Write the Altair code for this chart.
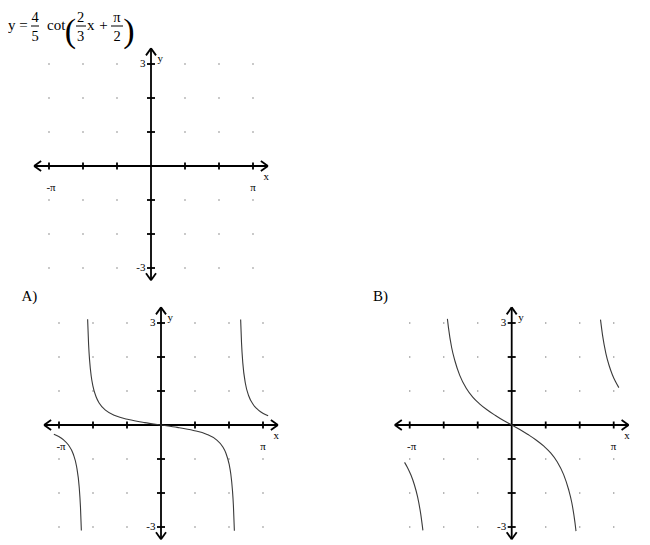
import math
import altair as alt
import pandas as pd

# ---------------- values ----------------
# x in radians, y in graph units
A_mid_x = [-2.26, -2.23, -2.2, -2.15, -2.1, -2.0, -1.9, -1.7, -1.4, -1.0, -0.5, 0.0,
           0.5, 1.0, 1.4, 1.7, 1.9, 2.0, 2.1, 2.15, 2.2, 2.23, 2.26]
A_mid_y = [3.11, 2.37, 1.91, 1.44, 1.16, 0.83, 0.64, 0.43, 0.27, 0.16, 0.07, 0.0,
           -0.07, -0.16, -0.27, -0.43, -0.64, -0.83, -1.16, -1.44, -1.91, -2.37, -3.11]
A_right_x = [2.453, 2.48, 2.52, 2.6, 2.7, 2.85, 3.0, 3.15, 3.3]
A_right_y = [3.10, 2.42, 1.82, 1.22, 0.86, 0.59, 0.44, 0.34, 0.27]
A_left_x = [-3.3, -3.15, -3.0, -2.85, -2.7, -2.6, -2.52, -2.48, -2.453]
A_left_y = [-0.27, -0.34, -0.44, -0.59, -0.86, -1.22, -1.82, -2.42, -3.10]

B_mid_x = [-1.98, -1.95, -1.85, -1.75, -1.6, -1.4, -1.2, -1.0, -0.75, -0.5, -0.25, 0.0,
           0.25, 0.5, 0.75, 1.0, 1.2, 1.4, 1.6, 1.75, 1.85, 1.95, 1.98]
B_mid_y = [3.12, 2.88, 2.28, 1.89, 1.46, 1.08, 0.82, 0.63, 0.44, 0.28, 0.13, 0.0,
           -0.13, -0.28, -0.44, -0.63, -0.82, -1.08, -1.46, -1.89, -2.28, -2.88, -3.12]
B_right_x = [2.735, 2.8, 2.9, 3.0, 3.1, 3.2, 3.3]
B_right_y = [3.10, 2.63, 2.11, 1.75, 1.48, 1.27, 1.10]
B_left_x = [-3.3, -3.2, -3.1, -3.0, -2.9, -2.8, -2.735]
B_left_y = [-1.10, -1.27, -1.48, -1.75, -2.11, -2.63, -3.10]

x_tick_steps = [-3, -2, -1, 1, 2, 3]          # multiples of pi/3
y_tick_values = [-3, -2, -1, 1, 2, 3]
x_end_labels = ["-π", "π"]
y_end_labels = ["3", "-3"]
axis_names = ["x", "y"]
panel_names = ["top", "A", "B"]
option_labels = ["A)", "B)"]
formula_parts = ["y =", "4", "5", "cot", "(", "2", "3", "x", "+", "π", "2", ")"]

# ---------------- layout ----------------
W, H = 634, 535
PX_RAD = 34 / (math.pi / 3)
PX_UNIT = 34.0
XMIN = -(161 - 8) / PX_RAD
XMAX = XMIN + W / PX_RAD
YMAX = (425 - 8) / PX_UNIT
YMIN = YMAX - H / PX_UNIT
OFFSET = {"top": (-10 / PX_RAD, (425 - 166) / PX_UNIT),
          "A": (0.0, 0.0),
          "B": ((511.7 - 161) / PX_RAD, 0.0)}

X_AX = (-3.6, 3.6)
Y_AX = (-3.36, 3.46)
AR_L_X, AR_W_Y = 7 / PX_RAD, 5 / PX_UNIT
AR_L_Y, AR_W_X = 7 / PX_UNIT, 5 / PX_RAD
TK_X = 3.5 / PX_UNIT
TK_Y = 4 / PX_RAD

xs = alt.Scale(domain=[XMIN, XMAX], nice=False, zero=False)
ys = alt.Scale(domain=[YMIN, YMAX], nice=False, zero=False)

# segments (axes, ticks, arrowheads)
seg = []
for p in panel_names:
    ox, oy = OFFSET[p]
    def add(x1, y1, x2, y2):
        seg.append({"x": x1 + ox, "y": y1 + oy, "x2": x2 + ox, "y2": y2 + oy})
    add(X_AX[0], 0, X_AX[1], 0)
    add(0, Y_AX[0], 0, Y_AX[1])
    for k in x_tick_steps:
        xv = k * math.pi / 3
        add(xv, -TK_X, xv, TK_X)
    for j in y_tick_values:
        add(-TK_Y, j, TK_Y, j)
    for s in (-1, 1):
        add(X_AX[0], 0, X_AX[0] + AR_L_X, s * AR_W_Y)
        add(X_AX[1], 0, X_AX[1] - AR_L_X, s * AR_W_Y)
        add(0, Y_AX[1], s * AR_W_X, Y_AX[1] - AR_L_Y)
        add(0, Y_AX[0], s * AR_W_X, Y_AX[0] + AR_L_Y)
seg_df = pd.DataFrame(seg)

# grid dots
dots = []
for p in panel_names:
    ox, oy = OFFSET[p]
    for k in x_tick_steps:
        for j in y_tick_values:
            dots.append({"x": k * math.pi / 3 + ox, "y": j + oy})
dots_df = pd.DataFrame(dots)

# curves
curves = []
branches = {
    "A": [("mid", A_mid_x, A_mid_y), ("right", A_right_x, A_right_y), ("left", A_left_x, A_left_y)],
    "B": [("mid", B_mid_x, B_mid_y), ("right", B_right_x, B_right_y), ("left", B_left_x, B_left_y)],
}
for p, brs in branches.items():
    ox, oy = OFFSET[p]
    for name, bx, by in brs:
        for xv, yv in zip(bx, by):
            curves.append({"x": xv + ox, "y": yv + oy, "branch": p + name})
curve_df = pd.DataFrame(curves)

# axis labels
lab_r, lab_c, lab_l = [], [], []
for p in panel_names:
    ox, oy = OFFSET[p]
    lab_r.append({"x": -0.17 + ox, "y": 3 + oy, "t": y_end_labels[0]})
    lab_r.append({"x": -0.17 + ox, "y": -3 + oy, "t": y_end_labels[1]})
    lab_l.append({"x": 0.2 + ox, "y": 3.15 + oy, "t": axis_names[1]})
    lab_c.append({"x": 3.55 + ox, "y": -0.32 + oy, "t": axis_names[0]})
    lab_c.append({"x": -3.08 + ox, "y": -0.66 + oy, "t": x_end_labels[0]})
    lab_c.append({"x": 3.14 + ox, "y": -0.66 + oy, "t": x_end_labels[1]})

FONT = "Liberation Serif"


def enc(df, mark):
    return alt.Chart(df).mark_text(**mark).encode(
        x=alt.X("x:Q", scale=xs, axis=None),
        y=alt.Y("y:Q", scale=ys, axis=None),
        text="t:N")


layers = []
layers.append(alt.Chart(dots_df).mark_square(size=2, color="#9a9a9a", opacity=1).encode(
    x=alt.X("x:Q", scale=xs, axis=None), y=alt.Y("y:Q", scale=ys, axis=None)))
layers.append(alt.Chart(seg_df).mark_rule(color="black", strokeWidth=1.8).encode(
    x=alt.X("x:Q", scale=xs, axis=None), y=alt.Y("y:Q", scale=ys, axis=None),
    x2="x2:Q", y2="y2:Q"))
layers.append(alt.Chart(curve_df).mark_line(color="#3a3a3a", strokeWidth=1.1, interpolate="monotone").encode(
    x=alt.X("x:Q", scale=xs, axis=None), y=alt.Y("y:Q", scale=ys, axis=None),
    detail="branch:N", order="x:Q"))
layers.append(enc(pd.DataFrame(lab_r), dict(align="right", baseline="middle", font=FONT, fontSize=11, color="black")))
layers.append(enc(pd.DataFrame(lab_l), dict(align="left", baseline="middle", font=FONT, fontSize=11, color="black")))
layers.append(enc(pd.DataFrame(lab_c), dict(align="center", baseline="middle", font=FONT, fontSize=11, color="black")))


def piece(text, px, py, size=14.5, align="center"):
    return alt.Chart(pd.DataFrame({"t": [text]})).mark_text(
        align=align, baseline="alphabetic", font=FONT, fontSize=size, color="black"
    ).encode(x=alt.value(px), y=alt.value(py), text="t:N")


def bar(x1, x2, py):
    return alt.Chart(pd.DataFrame({"t": [0]})).mark_rule(color="black", strokeWidth=1).encode(
        x=alt.value(x1), x2=alt.value(x2), y=alt.value(py))


f = formula_parts
layers += [
    piece(f[0], 0, 22, align="left", size=15),
    piece(f[1], 27, 13.5), bar(23, 31, 18), piece(f[2], 27, 33),
    piece(f[3], 39, 22, align="left", size=15),
    piece(f[4], 62.5, 34, size=34),
    piece(f[5], 72.5, 13.5), bar(68, 78, 18), piece(f[6], 72.5, 33),
    piece(f[7], 79, 22, align="left", size=15),
    piece(f[8], 95.5, 22, size=15),
    piece(f[9], 109, 13.5), bar(103, 115, 18), piece(f[10], 109, 33),
    piece(f[11], 121, 34, size=34),
    piece(option_labels[0], 13.5, 293, align="left", size=15),
    piece(option_labels[1], 365, 293, align="left", size=15),
]

chart = alt.layer(*layers).properties(
    width=W, height=H, padding=0,
    autosize=alt.AutoSizeParams(type="none"),
).configure_view(stroke=None)

chart.save("out.html", embed_options={"renderer": "svg", "actions": False})
